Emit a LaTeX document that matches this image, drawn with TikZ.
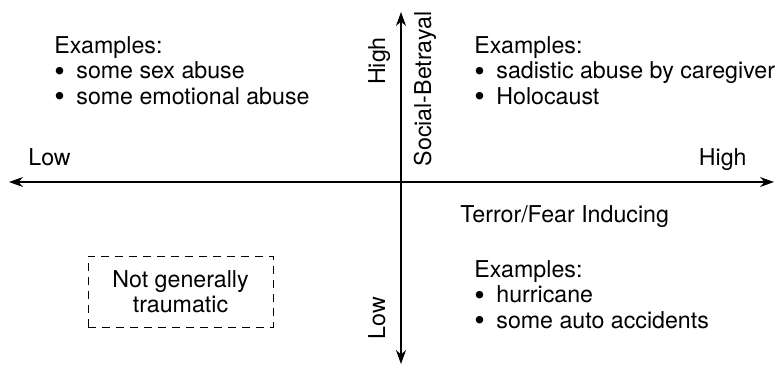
\documentclass[tikz,border=0pt]{standalone}
\usepackage{fontspec}
\setmainfont{TeX Gyre Heros}
\usetikzlibrary{arrows.meta}
\newcommand{\bul}{\makebox[11pt][l]{\raisebox{-1.3pt}{\fontsize{15}{0}\selectfont\textbullet}}}
\begin{document}
\begin{tikzpicture}[>={Stealth[length=7pt,width=5pt]},x=0.5pt,y=-0.5pt,
	every node/.style={inner sep=0pt,font=\fontsize{11.6}{12.75}\selectfont},
	block/.style={anchor=base west,align=left},
	axislabel/.style={anchor=base}]
			\useasboundingbox (0,0) rectangle (777,366);
			% Hai trục
			\coordinate (W) at (9,182);	\coordinate (E) at (774,182);
			\coordinate (S) at (401,364);	\coordinate (N) at (401,12);
			\draw[line width=0.65pt,<->] (W)--(E);
			\draw[line width=0.65pt,<->] (S)--(N);
			% Nhãn trục ngang
			\node[anchor=base west] (lowx) at (28,165) {Low};
			\node[anchor=base east] (highx) at (747,165) {High};
			\node[anchor=base west] (terror) at (460,222) {Terror/Fear Inducing};
			% Nhãn trục đứng (nhãn đặt trên đường cơ sở)
			\node[axislabel,rotate=90] (highy) at (385,61) {High};
			\node[axislabel,rotate=90] (betrayal) at (431,89) {Social-Betrayal};
			\node[axislabel,rotate=90] (lowy) at (385,318) {Low};
			% Các ví dụ (neo ở dòng cuối)
			\node[block] (extl) at (54,104) {Examples:\\\bul some sex abuse\\\bul some emotional abuse};
			\node[block] (extr) at (474,104) {Examples:\\\bul sadistic abuse by caregiver\\\bul Holocaust};
			\node[block] (exbr) at (474,328) {Examples:\\\bul hurricane\\\bul some auto accidents};
			% Ô nét đứt
			\node[draw,line width=0.5pt,dash pattern=on 4pt off 3pt,minimum width=92.5pt,minimum height=35.5pt,align=center] (notrauma) at (180.5,291.5) {Not generally\\traumatic};
			\end{tikzpicture}
\end{document}
